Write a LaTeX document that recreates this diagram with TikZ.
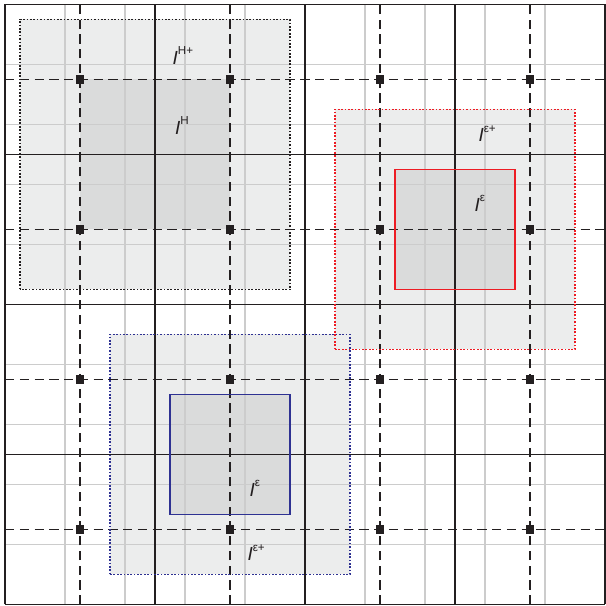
\documentclass[tikz,border=0pt]{standalone}
\usepackage{fontspec}
\setsansfont{Liberation Sans}
\usepackage{tikz}
\usetikzlibrary{positioning}
\usepackage{xcolor}

\definecolor{lightfill}{RGB}{236,237,237}
\definecolor{darkfill}{RGB}{218,219,219}
\definecolor{gridgray}{RGB}{204,204,204}
\definecolor{inkblack}{RGB}{35,31,32}
\definecolor{inkred}{RGB}{237,28,36}
\definecolor{inkblue}{RGB}{46,49,146}

% label: slanted I with a small upright index
\newcommand{\ilabel}[1]{\textit{I}\raisebox{0.95ex}{\fontsize{5.5}{5.5}\selectfont #1}}

\begin{document}
\begin{tikzpicture}[
    x=0.5cm, y=0.5cm,
    gridline/.style={draw=gridgray, line width=0.55pt},
    majorline/.style={draw=inkblack, line width=0.6pt},
    midline/.style={draw=inkblack, line width=0.7pt, dash pattern=on 4.4pt off 2.6pt},
    dotbox/.style={draw=#1, line width=0.85pt, dash pattern=on 0.8pt off 0.8pt},
    solidbox/.style={draw=#1, line width=0.8pt},
    sq/.style={rectangle, fill=inkblack, inner sep=0pt, minimum size=3.8pt},
    lbl/.style={font=\sffamily\fontsize{9}{9}\selectfont, text=inkblack, inner sep=0pt}
]
\useasboundingbox (-0.167,-0.05) rectangle (20,20.15);
\fill[white] (-0.167,-0.05) rectangle (20,20.15);

% fields
\fill[lightfill] (0.5,10.5) rectangle (9.5,19.5);
\fill[darkfill] (2.5,12.5) rectangle (7.5,17.5);
\fill[lightfill] (11,8.5) rectangle (19,16.5);
\fill[darkfill] (13,10.5) rectangle (17,14.5);
\fill[lightfill] (3.5,1) rectangle (11.5,9);
\fill[darkfill] (5.5,3) rectangle (9.5,7);

% fine grid
\draw[gridline] (0,0) grid (20,20);

% coarse blocks
\foreach \v in {0,5,10,15,20} {
    \draw[majorline] (\v,0) -- (\v,20);
    \draw[majorline] (0,\v) -- (20,\v);
}

% block centre lines
\foreach \v in {2.5,7.5,12.5,17.5} {
    \draw[midline] (\v,0) -- (\v,20);
    \draw[midline] (0,\v) -- (20,\v);
}

% boxes
\draw[dotbox=inkblack] (0.5,10.5) rectangle (9.5,19.5);
\draw[dotbox=inkred] (11,8.5) rectangle (19,16.5);
\draw[solidbox=inkred] (13,10.5) rectangle (17,14.5);
\draw[dotbox=inkblue] (3.5,1) rectangle (11.5,9);
\draw[solidbox=inkblue] (5.5,3) rectangle (9.5,7);

% nodes at block centres
\foreach \x [count=\i] in {2.5,7.5,12.5,17.5}
    \foreach \y [count=\j] in {2.5,7.5,12.5,17.5}
        \node[sq] (p\i\j) at (\x,\y) {};

\node[lbl] (hplus) at (5.93,18.3) {\ilabel{H+}};
\node[lbl] (h) at (5.9,15.97) {\ilabel{H}};
\node[lbl] (eplusR) at (16.07,15.7) {\ilabel{ε+}};
\node[lbl] (eR) at (15.83,13.37) {\ilabel{ε}};
\node[lbl] (eB) at (8.33,3.87) {\ilabel{ε}};
\node[lbl] (eplusB) at (8.37,1.73) {\ilabel{ε+}};
\end{tikzpicture}
\end{document}
